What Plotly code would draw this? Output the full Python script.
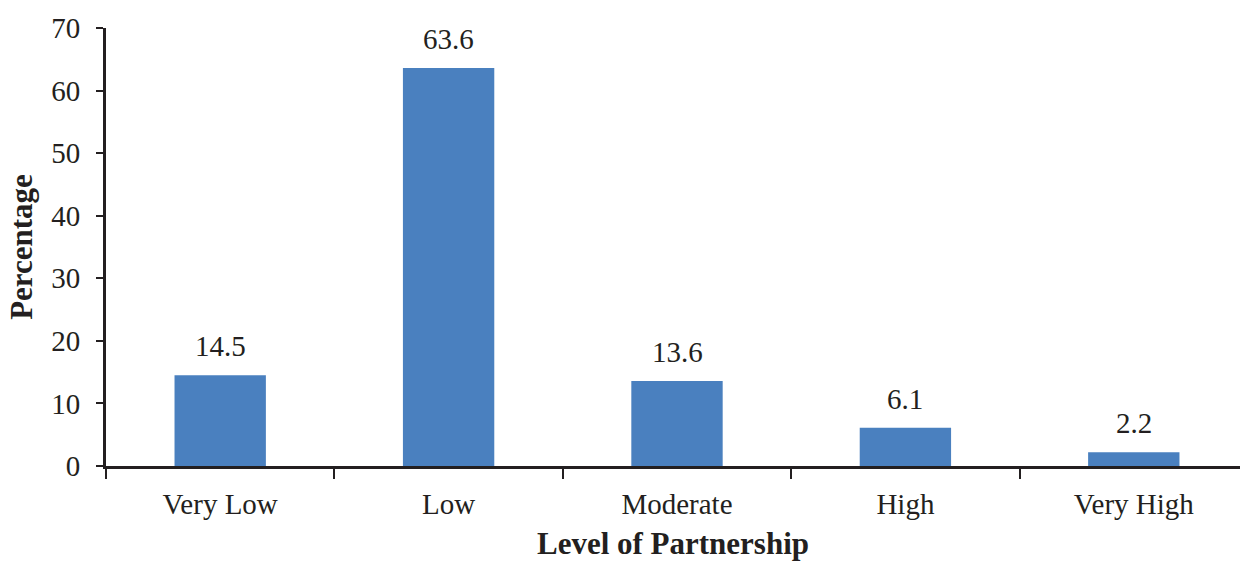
import plotly.graph_objects as go

categories = ["Very Low", "Low", "Moderate", "High", "Very High"]
values = [14.5, 63.6, 13.6, 6.1, 2.2]
value_labels = ["14.5", "63.6", "13.6", "6.1", "2.2"]
y_ticks = [0, 10, 20, 30, 40, 50, 60, 70]

ink = "#231f20"
font_family = "Liberation Serif, Times New Roman, serif"

fig = go.Figure(go.Bar(
    x=categories,
    y=values,
    marker=dict(color="#4a80bf", line=dict(width=0)),
    cliponaxis=False,
))

for cat, val, lab in zip(categories, values, value_labels):
    fig.add_annotation(
        x=cat, y=val, text=lab, showarrow=False,
        xanchor="center", yanchor="bottom", yshift=11,
        font=dict(family=font_family, size=29, color=ink),
    )

fig.update_layout(
    width=1240, height=561,
    margin=dict(l=106, r=0, t=28, b=95),
    paper_bgcolor="white", plot_bgcolor="white",
    bargap=0.6,
    showlegend=False,
    font=dict(family=font_family, size=29, color=ink),
)

fig.update_xaxes(
    range=[-0.5, 4.465],
    showline=True, linecolor=ink, linewidth=3,
    ticks="outside", tickson="boundaries", ticklen=10, tickwidth=2, tickcolor=ink,
    showgrid=False,
    tickfont=dict(family=font_family, size=29, color=ink),
    ticklabelstandoff=10,
    title=dict(text="<b>Level of Partnership</b>", standoff=18,
               font=dict(family=font_family, size=31, color=ink)),
)
fig.update_yaxes(
    range=[0, 70], tickvals=y_ticks,
    showline=True, linecolor=ink, linewidth=3,
    ticks="outside", ticklen=7, tickwidth=2, tickcolor=ink,
    showgrid=False, zeroline=False,
    tickfont=dict(family=font_family, size=29, color=ink),
    ticklabelstandoff=10,
    title=dict(text="<b>Percentage</b>", standoff=10,
               font=dict(family=font_family, size=31, color=ink)),
)

fig.write_html("out.html")
